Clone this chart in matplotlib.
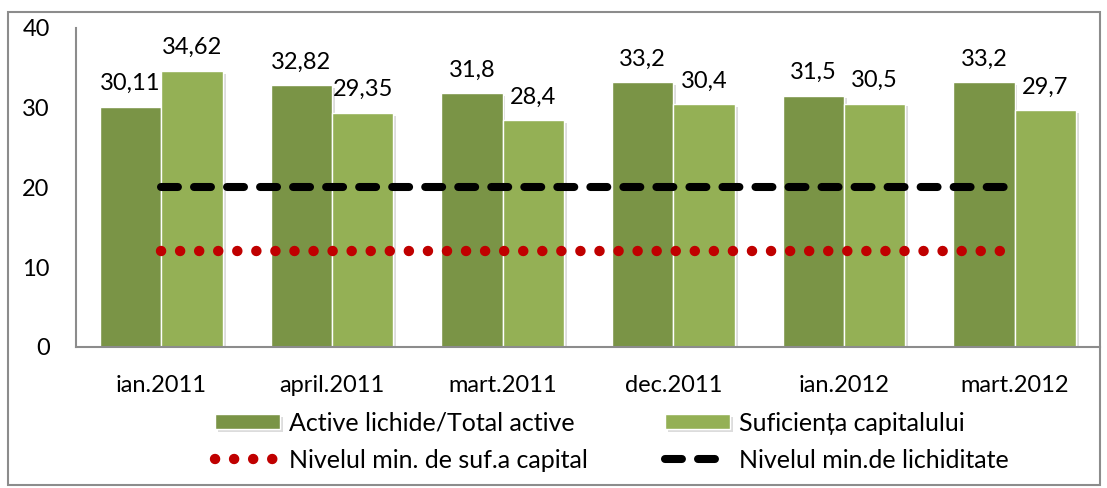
import matplotlib.pyplot as plt
import numpy as np
from matplotlib.patches import Rectangle
import matplotlib.patheffects as pe

plt.rcParams['font.family'] = ['Lato', 'DejaVu Sans']

categories = ['ian.2011', 'april.2011', 'mart.2011', 'dec.2011', 'ian.2012', 'mart.2012']
active = [30.11, 32.82, 31.8, 33.2, 31.5, 33.2]
suficienta = [34.62, 29.35, 28.4, 30.4, 30.5, 29.7]
min_suf = [12, 12, 12, 12, 12, 12]
min_lichid = [20, 20, 20, 20, 20, 20]
active_lbl = ['30,11', '32,82', '31,8', '33,2', '31,5', '33,2']
suf_lbl = ['34,62', '29,35', '28,4', '30,4', '30,5', '29,7']

dark = '#7A9446'
light = '#94B055'
red = '#C00000'

fig = plt.figure(figsize=(11.07, 4.88), dpi=100)
ax = fig.add_axes([0.0687, 0.289, 0.925, 0.654])

x = np.arange(len(categories))
w = 0.36
shadow = [pe.SimplePatchShadow(offset=(2, -2), shadow_rgbFace='#BBBBBB', alpha=0.5), pe.Normal()]
b1 = ax.bar(x - w / 2, active, w, color=dark, edgecolor='white', linewidth=1,
            label='Active lichide/Total active', zorder=2)
b2 = ax.bar(x + w / 2, suficienta, w, color=light, edgecolor='white', linewidth=1,
            label='Suficiența capitalului', zorder=2)
for r in list(b1) + list(b2):
    r.set_path_effects(shadow)

# dotted line: zero-length dashes with round caps
l1, = ax.plot(x, min_suf, color=red, linewidth=7.5, dashes=(0.01, 1.82),
              dash_capstyle='round', label='Nivelul min. de suf.a capital', zorder=3)
l2, = ax.plot(x, min_lichid, color='black', linewidth=5.8, dashes=(2.1, 2.0),
              dash_capstyle='round', label='Nivelul min.de lichiditate', zorder=3)

for xi, v, t in zip(x - w / 2, active, active_lbl):
    ax.annotate(t, (xi, v), xytext=(0, 9), textcoords='offset points',
                ha='center', va='bottom', fontsize=17)
for xi, v, t in zip(x + w / 2, suficienta, suf_lbl):
    ax.annotate(t, (xi, v), xytext=(0, 9), textcoords='offset points',
                ha='center', va='bottom', fontsize=17)

ax.set_xlim(-0.5, 5.5)
ax.set_ylim(0, 40)
ax.set_yticks([0, 10, 20, 30, 40])
ax.set_xticks(x)
ax.set_xticklabels(categories)
ax.tick_params(axis='y', length=0, pad=19, labelsize=17)
ax.tick_params(axis='x', length=0, pad=20, labelsize=17)
for s in ['top', 'right']:
    ax.spines[s].set_visible(False)
for s in ['left', 'bottom']:
    ax.spines[s].set_color('#8C8C8C')
    ax.spines[s].set_linewidth(1.5)

fig.legend([b1, l1, b2, l2],
           [b1.get_label(), l1.get_label(), b2.get_label(), l2.get_label()],
           ncol=2, loc='center', bbox_to_anchor=(0.5525, 0.095), frameon=False,
           fontsize=18, handlelength=2.6, handleheight=0.55, handletextpad=0.35,
           columnspacing=3.1, labelspacing=0.55)

fig.patches.append(Rectangle((8 / 1107, 3 / 488), 1092 / 1107, 473 / 488,
                             transform=fig.transFigure, fill=False,
                             edgecolor='#8C8C8C', linewidth=1.5))

fig.savefig('out.png', dpi=100)
